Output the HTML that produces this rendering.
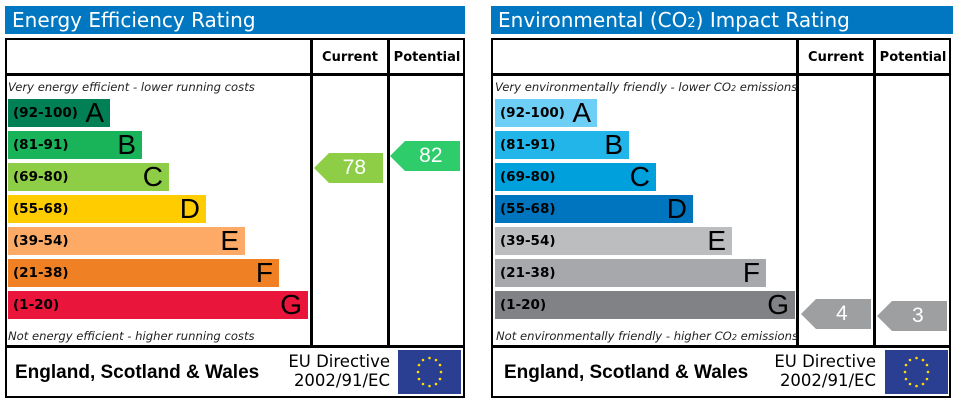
<!DOCTYPE html>
<html><head><meta charset="utf-8"><style>
*{margin:0;padding:0;box-sizing:border-box}
body{width:957px;height:404px;background:#fff;position:relative;font-family:"DejaVu Sans","Liberation Sans",sans-serif;overflow:hidden}
.a{position:absolute}
.title{background:#0077c0;color:#fff;font-size:20px;height:28px;line-height:28px;padding-left:7px;top:6px;width:460px}
.box{border:2px solid #000;top:38px;width:460px;height:360px}
.vl{width:3px;background:#000;top:38px;height:309px}
.hl{height:3px;background:#000}
.hdr{font-size:13px;font-weight:bold;text-align:center;top:50px}
.it{font-size:11.6px;font-style:italic;color:#222;white-space:nowrap}
.bar{height:28px;color:#000}
.bar .r{position:absolute;left:5px;top:6px;font-size:13.5px;font-weight:bold}
.bar .l{position:absolute;right:6px;top:-2px;font-size:28px;font-family:"Liberation Sans",sans-serif}
.ft{font-family:"Liberation Sans",sans-serif;font-weight:bold;font-size:19px;top:362px}
.eu{font-size:16.5px;line-height:19px;text-align:right;top:352px}
.flag{background:#2a3f91;width:63px;height:44px;top:350px}
.arr{height:30px;color:#fff;font-family:"Liberation Sans",sans-serif;font-size:21px;line-height:30px;text-align:center}
</style></head><body>
<!-- LEFT -->
<div class="a title" style="left:5px">Energy Efficiency Rating</div>
<div class="a box" style="left:5px"></div>
<div class="a vl" style="left:310px"></div>
<div class="a vl" style="left:387px"></div>
<div class="a hl" style="left:5px;top:73px;width:460px"></div>
<div class="a hl" style="left:5px;top:345px;width:460px"></div>
<div class="a hdr" style="left:312px;width:76px">Current</div>
<div class="a hdr" style="left:389px;width:76px">Potential</div>
<div class="a it" style="left:8px;top:80px">Very energy efficient - lower running costs</div>
<div class="a bar" style="left:8px;top:99px;width:102px;background:#008054"><span class="r">(92-100)</span><span class="l">A</span></div>
<div class="a bar" style="left:8px;top:131px;width:134px;background:#19b459"><span class="r">(81-91)</span><span class="l">B</span></div>
<div class="a bar" style="left:8px;top:163px;width:161px;background:#8dce46"><span class="r">(69-80)</span><span class="l">C</span></div>
<div class="a bar" style="left:8px;top:195px;width:198px;background:#ffcc00"><span class="r">(55-68)</span><span class="l">D</span></div>
<div class="a bar" style="left:8px;top:227px;width:237px;background:#fcaa65"><span class="r">(39-54)</span><span class="l">E</span></div>
<div class="a bar" style="left:8px;top:259px;width:271px;background:#ef8023"><span class="r">(21-38)</span><span class="l">F</span></div>
<div class="a bar" style="left:8px;top:291px;width:300px;background:#e9153b"><span class="r">(1-20)</span><span class="l">G</span></div>
<div class="a it" style="left:8px;top:329px">Not energy efficient - higher running costs</div>
<div class="a arr" style="left:314px;top:153px;width:69px;background:#8dce46;clip-path:polygon(0 50%,15px 0,100% 0,100% 100%,15px 100%)">&nbsp;&nbsp;78</div>
<div class="a arr" style="left:390px;top:141px;width:70px;background:#2ecc6a;clip-path:polygon(0 50%,15px 0,100% 0,100% 100%,15px 100%)">&nbsp;&nbsp;82</div>
<div class="a ft" style="left:15px">England, Scotland &amp; Wales</div>
<div class="a eu" style="left:270px;width:120px">EU Directive<br>2002/91/EC</div>
<div class="a flag" style="left:398px"><svg width="63" height="44"><g fill="#ffdd00"><circle cx="31.5" cy="8" r="1.3"/><circle cx="38" cy="10" r="1.3"/><circle cx="42" cy="15" r="1.3"/><circle cx="43" cy="22" r="1.3"/><circle cx="42" cy="29" r="1.3"/><circle cx="38" cy="34" r="1.3"/><circle cx="31.5" cy="36" r="1.3"/><circle cx="25" cy="34" r="1.3"/><circle cx="21" cy="29" r="1.3"/><circle cx="20" cy="22" r="1.3"/><circle cx="21" cy="15" r="1.3"/><circle cx="25" cy="10" r="1.3"/></g></svg></div>
<!-- RIGHT -->
<div class="a title" style="left:491px;width:462px">Environmental (CO<span style="font-size:13px">2</span>) Impact Rating</div>
<div class="a box" style="left:491px"></div>
<div class="a vl" style="left:796px"></div>
<div class="a vl" style="left:873px"></div>
<div class="a hl" style="left:491px;top:73px;width:460px"></div>
<div class="a hl" style="left:491px;top:345px;width:460px"></div>
<div class="a hdr" style="left:798px;width:76px">Current</div>
<div class="a hdr" style="left:875px;width:76px">Potential</div>
<div class="a it" style="left:495px;top:80px;font-size:11.6px">Very environmentally friendly - lower CO<span style="font-size:8px">2</span> emissions</div>
<div class="a bar" style="left:495px;top:99px;width:102px;background:#6dcff6"><span class="r">(92-100)</span><span class="l">A</span></div>
<div class="a bar" style="left:495px;top:131px;width:134px;background:#22b5ea"><span class="r">(81-91)</span><span class="l">B</span></div>
<div class="a bar" style="left:495px;top:163px;width:161px;background:#00a0dc"><span class="r">(69-80)</span><span class="l">C</span></div>
<div class="a bar" style="left:495px;top:195px;width:198px;background:#0075bf"><span class="r">(55-68)</span><span class="l">D</span></div>
<div class="a bar" style="left:495px;top:227px;width:237px;background:#bbbdbf"><span class="r">(39-54)</span><span class="l">E</span></div>
<div class="a bar" style="left:495px;top:259px;width:271px;background:#a6a8ab"><span class="r">(21-38)</span><span class="l">F</span></div>
<div class="a bar" style="left:495px;top:291px;width:300px;background:#808285"><span class="r">(1-20)</span><span class="l">G</span></div>
<div class="a it" style="left:496px;top:329px;font-size:11.6px">Not environmentally friendly - higher CO<span style="font-size:8px">2</span> emissions</div>
<div class="a arr" style="left:801px;top:299px;width:70px;background:#9d9fa1;clip-path:polygon(0 50%,15px 0,100% 0,100% 100%,15px 100%)">&nbsp;&nbsp;4</div>
<div class="a arr" style="left:877px;top:301px;width:70px;background:#9d9fa1;clip-path:polygon(0 50%,15px 0,100% 0,100% 100%,15px 100%)">&nbsp;&nbsp;3</div>
<div class="a ft" style="left:504px">England, Scotland &amp; Wales</div>
<div class="a eu" style="left:756px;width:120px">EU Directive<br>2002/91/EC</div>
<div class="a flag" style="left:885px"><svg width="63" height="44"><g fill="#ffdd00"><circle cx="31.5" cy="8" r="1.3"/><circle cx="38" cy="10" r="1.3"/><circle cx="42" cy="15" r="1.3"/><circle cx="43" cy="22" r="1.3"/><circle cx="42" cy="29" r="1.3"/><circle cx="38" cy="34" r="1.3"/><circle cx="31.5" cy="36" r="1.3"/><circle cx="25" cy="34" r="1.3"/><circle cx="21" cy="29" r="1.3"/><circle cx="20" cy="22" r="1.3"/><circle cx="21" cy="15" r="1.3"/><circle cx="25" cy="10" r="1.3"/></g></svg></div>
</body></html>
